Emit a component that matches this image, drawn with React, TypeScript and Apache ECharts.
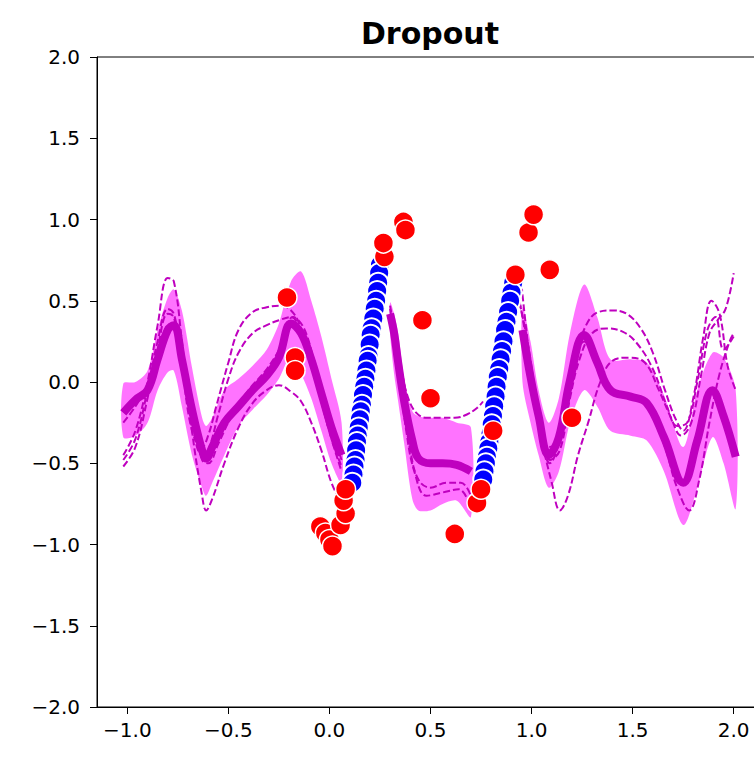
import React, { useEffect, useRef } from "react";
import * as echarts from "echarts";

// ---------- data ----------
const xTicks = [-1.0, -0.5, 0.0, 0.5, 1.0, 1.5, 2.0];

// predictive mean / band, left region
const xLeft = [-1.02, -0.96, -0.90, -0.85, -0.80, -0.77, -0.73, -0.68, -0.63, -0.61, -0.58, -0.52, -0.45, -0.38, -0.31, -0.25, -0.19, -0.14, -0.09, -0.04, 0.01, 0.06];
const meanLeft = [-0.19, -0.11, -0.05, 0.14, 0.32, 0.35, 0.14, -0.17, -0.42, -0.47, -0.40, -0.25, -0.15, -0.05, 0.04, 0.15, 0.36, 0.30, 0.14, -0.07, -0.28, -0.45];
const upperLeft = [-0.01, 0.0, 0.07, 0.32, 0.52, 0.57, 0.44, 0.09, -0.22, -0.27, -0.22, -0.05, 0.02, 0.10, 0.20, 0.36, 0.62, 0.68, 0.50, 0.28, 0.02, -0.25];
const lowerLeft = [-0.34, -0.33, -0.25, -0.05, 0.06, 0.07, -0.15, -0.45, -0.65, -0.70, -0.62, -0.45, -0.27, -0.17, -0.08, 0.02, 0.16, 0.05, -0.10, -0.30, -0.50, -0.62];

// middle region
const xMid = [0.30, 0.32, 0.34, 0.37, 0.41, 0.44, 0.50, 0.56, 0.63, 0.70];
const meanMid = [0.42, 0.30, 0.12, -0.12, -0.36, -0.47, -0.50, -0.50, -0.51, -0.55];
const upperMid = [0.49, 0.42, 0.30, 0.02, -0.18, -0.21, -0.22, -0.22, -0.25, -0.28];
const lowerMid = [0.30, 0.05, -0.12, -0.38, -0.72, -0.79, -0.79, -0.75, -0.73, -0.83];

// right region
const xRight = [0.955, 0.995, 1.035, 1.085, 1.135, 1.19, 1.26, 1.325, 1.39, 1.49, 1.57, 1.655, 1.75, 1.82, 1.895, 1.95, 2.01];
const meanRight = [0.32, 0.03, -0.21, -0.45, -0.34, 0.01, 0.29, 0.12, -0.05, -0.09, -0.13, -0.34, -0.62, -0.36, -0.05, -0.21, -0.46];
const upperRight = [0.46, 0.25, -0.05, -0.25, -0.10, 0.30, 0.60, 0.40, 0.14, 0.14, 0.12, -0.08, -0.40, -0.05, 0.18, 0.15, -0.05];
const lowerRight = [0.0, -0.25, -0.45, -0.65, -0.55, -0.25, -0.05, -0.15, -0.30, -0.33, -0.36, -0.55, -0.88, -0.65, -0.34, -0.50, -0.78];

// dropout sample curves (dashed)
const sampleL1 = [[-1.02, -0.45], [-0.96, -0.30], [-0.90, 0.0], [-0.85, 0.35], [-0.80, 0.64], [-0.77, 0.62], [-0.73, 0.25], [-0.68, -0.30], [-0.63, -0.70], [-0.61, -0.79], [-0.58, -0.72], [-0.52, -0.50], [-0.45, -0.28], [-0.38, -0.13], [-0.31, -0.05], [-0.25, -0.02], [-0.19, -0.06], [-0.14, -0.12], [-0.09, -0.25], [-0.04, -0.42], [0.01, -0.62], [0.06, -0.75]];
const sampleL2 = [[-1.02, -0.52], [-0.96, -0.40], [-0.90, -0.10], [-0.85, 0.20], [-0.80, 0.42], [-0.77, 0.40], [-0.73, 0.10], [-0.68, -0.30], [-0.63, -0.40], [-0.60, -0.33], [-0.56, -0.15], [-0.50, 0.12], [-0.45, 0.32], [-0.38, 0.43], [-0.31, 0.46], [-0.25, 0.47], [-0.19, 0.44], [-0.14, 0.33], [-0.09, 0.12], [-0.04, -0.12], [0.01, -0.35], [0.06, -0.55]];
const sampleL3 = [[-1.02, -0.48], [-0.96, -0.35], [-0.90, -0.05], [-0.85, 0.25], [-0.80, 0.45], [-0.77, 0.42], [-0.73, 0.15], [-0.68, -0.25], [-0.63, -0.45], [-0.60, -0.42], [-0.55, -0.20], [-0.50, 0.02], [-0.45, 0.18], [-0.38, 0.30], [-0.31, 0.35], [-0.25, 0.38], [-0.19, 0.40], [-0.14, 0.30], [-0.09, 0.10], [-0.04, -0.12], [0.01, -0.35], [0.06, -0.52]];
const sampleL4 = [[-1.02, -0.25], [-0.96, -0.15], [-0.90, -0.02], [-0.85, 0.18], [-0.80, 0.35], [-0.77, 0.36], [-0.73, 0.12], [-0.68, -0.22], [-0.63, -0.48], [-0.60, -0.50], [-0.55, -0.38], [-0.48, -0.20], [-0.40, -0.05], [-0.31, 0.08], [-0.24, 0.22], [-0.18, 0.40], [-0.13, 0.34], [-0.08, 0.15], [-0.03, -0.08], [0.02, -0.32], [0.06, -0.48]];

const sampleM1 = [[0.30, 0.47], [0.33, 0.25], [0.36, 0.05], [0.39, -0.10], [0.43, -0.19], [0.48, -0.22], [0.55, -0.22], [0.62, -0.22], [0.68, -0.20], [0.73, -0.16], [0.76, -0.12]];
const sampleM2 = [[0.30, 0.40], [0.33, 0.15], [0.36, -0.10], [0.40, -0.42], [0.44, -0.60], [0.50, -0.65], [0.58, -0.62], [0.65, -0.62], [0.70, -0.70]];
const sampleM3 = [[0.30, 0.45], [0.34, 0.10], [0.38, -0.30], [0.42, -0.55], [0.48, -0.70], [0.56, -0.68], [0.64, -0.66], [0.70, -0.78]];

const sampleR1 = [[0.93, 0.55], [0.98, 0.25], [1.03, -0.15], [1.08, -0.40], [1.12, -0.38], [1.17, -0.15], [1.22, 0.15], [1.27, 0.35], [1.33, 0.43], [1.40, 0.44], [1.47, 0.42], [1.54, 0.33], [1.60, 0.18], [1.66, -0.05], [1.71, -0.22], [1.75, -0.30], [1.80, -0.10], [1.85, 0.28], [1.89, 0.50], [1.93, 0.42], [1.97, 0.10], [2.01, -0.05]];
const sampleR2 = [[0.94, 0.50], [0.99, 0.15], [1.04, -0.25], [1.09, -0.48], [1.14, -0.42], [1.19, -0.10], [1.24, 0.15], [1.30, 0.30], [1.37, 0.33], [1.45, 0.31], [1.52, 0.24], [1.60, 0.08], [1.67, -0.15], [1.72, -0.27], [1.77, -0.25], [1.82, 0.0], [1.87, 0.32], [1.91, 0.40], [1.95, 0.20], [2.0, 0.28]];
const sampleR3 = [[0.95, 0.60], [1.0, 0.05], [1.05, -0.35], [1.10, -0.62], [1.14, -0.79], [1.18, -0.70], [1.23, -0.45], [1.28, -0.25], [1.34, 0.0], [1.40, 0.13], [1.48, 0.15], [1.56, 0.12], [1.63, -0.05], [1.69, -0.22], [1.74, -0.33], [1.79, -0.25], [1.84, 0.05], [1.88, 0.30], [1.92, 0.38], [1.96, 0.45], [2.0, 0.67]];
const sampleR4 = [[0.96, 0.25], [1.0, -0.05], [1.05, -0.35], [1.09, -0.50], [1.14, -0.35], [1.20, 0.0], [1.26, 0.25], [1.33, 0.10], [1.40, -0.05], [1.50, -0.08], [1.58, -0.15], [1.66, -0.40], [1.72, -0.65], [1.78, -0.79], [1.83, -0.60], [1.88, -0.25], [1.93, 0.05], [1.98, 0.25], [2.0, 0.30]];

// observed training points (blue)
const trainA = [[0.25, 0.72], [0.246, 0.67], [0.241, 0.61], [0.236, 0.56], [0.231, 0.50], [0.224, 0.45], [0.217, 0.39], [0.209, 0.33], [0.204, 0.29], [0.199, 0.23], [0.193, 0.16], [0.189, 0.13], [0.183, 0.07], [0.178, 0.02], [0.172, -0.03], [0.166, -0.08], [0.161, -0.14], [0.155, -0.18], [0.151, -0.23], [0.145, -0.28], [0.14, -0.33], [0.136, -0.37], [0.132, -0.42], [0.129, -0.48], [0.124, -0.52], [0.119, -0.57], [0.113, -0.62]];
const trainB = [[0.915, 0.66], [0.909, 0.61], [0.901, 0.55], [0.894, 0.50], [0.884, 0.43], [0.876, 0.37], [0.869, 0.32], [0.861, 0.25], [0.854, 0.19], [0.847, 0.14], [0.84, 0.08], [0.833, 0.03], [0.827, -0.03], [0.822, -0.09], [0.815, -0.15], [0.809, -0.21], [0.803, -0.26], [0.797, -0.32], [0.791, -0.37], [0.786, -0.41], [0.779, -0.46], [0.774, -0.50], [0.767, -0.55], [0.761, -0.60]];

// held-out points (red)
const testPts = [[-0.21, 0.52], [-0.17, 0.15], [-0.17, 0.07], [-0.045, -0.89], [-0.02, -0.93], [0.0, -0.97], [0.015, -1.01], [0.055, -0.88], [0.08, -0.81], [0.07, -0.73], [0.08, -0.66], [0.272, 0.77], [0.267, 0.855], [0.366, 0.985], [0.376, 0.935], [0.46, 0.38], [0.50, -0.10], [0.62, -0.935], [0.73, -0.745], [0.75, -0.66], [0.81, -0.30], [0.92, 0.66], [0.985, 0.92], [1.01, 1.03], [1.09, 0.69], [1.20, -0.22]];

// ---------- styling ----------
const FONT = "DejaVu Sans";
const MEAN_COLOR = "#bf00bf";
const BAND_COLOR = "rgba(255, 0, 255, 0.55)";

const fmt = (v: number) => (v < 0 ? "\u2212" : "") + Math.abs(v).toFixed(1);

function bandSeries(xs: number[], lo: number[], hi: number[]) {
  return {
    type: "custom",
    silent: true,
    z: 1,
    clip: true,
    data: xs.map((x, i) => [x, lo[i], hi[i]]),
    encode: { x: 0, y: [1, 2] },
    renderItem: (params: any, api: any) => {
      if (params.dataIndex !== 0) return null;
      const pts: number[][] = [];
      for (let i = 0; i < xs.length; i++) pts.push(api.coord([xs[i], hi[i]]));
      for (let i = xs.length - 1; i >= 0; i--) pts.push(api.coord([xs[i], lo[i]]));
      return {
        type: "polygon",
        shape: { points: pts, smooth: 0.3 },
        style: { fill: BAND_COLOR, stroke: "none" },
      };
    },
  };
}

function meanSeries(xs: number[], ys: number[]) {
  return {
    type: "line",
    z: 3,
    smooth: 0.4,
    showSymbol: false,
    silent: true,
    data: xs.map((x, i) => [x, ys[i]]),
    lineStyle: { color: MEAN_COLOR, width: 8, cap: "butt" },
  };
}

function sampleSeries(pts: number[][]) {
  return {
    type: "line",
    z: 2,
    smooth: 0.4,
    showSymbol: false,
    silent: true,
    data: pts,
    lineStyle: { color: MEAN_COLOR, width: 2, type: [7, 3] },
  };
}

export default function App() {
  const ref = useRef<HTMLDivElement>(null);
  useEffect(() => {
    if (!ref.current) return;
    const chart = echarts.init(ref.current, null, { renderer: "svg" });
    chart.setOption({
      animation: false,
      backgroundColor: "#ffffff",
      graphic: [
        {
          type: "text",
          x: 430,
          y: 33,
          silent: true,
          style: {
            text: "Dropout",
            textAlign: "center",
            textVerticalAlign: "middle",
            fontFamily: FONT,
            fontWeight: "bold",
            fontSize: 30,
            fill: "#000",
          },
        },
      ],
      grid: {
        left: 97,
        top: 57,
        right: 6,
        bottom: 60,
        show: true,
        borderColor: "#000",
        borderWidth: 1,
        backgroundColor: "transparent",
      },
      xAxis: {
        type: "value",
        min: -1.15,
        max: 2.15,
        axisLine: { show: true, onZero: false, lineStyle: { color: "#000", width: 1 } },
        axisTick: { show: true, length: 7, lineStyle: { color: "#000" }, customValues: xTicks },
        axisLabel: {
          customValues: xTicks,
          formatter: fmt,
          fontFamily: FONT,
          fontSize: 20,
          color: "#000",
          margin: 13,
        },
        splitLine: { show: false },
      },
      yAxis: {
        type: "value",
        min: -2,
        max: 2,
        interval: 0.5,
        axisLine: { show: true, onZero: false, lineStyle: { color: "#000", width: 1 } },
        axisTick: { show: true, length: 7, lineStyle: { color: "#000" } },
        axisLabel: { formatter: fmt, fontFamily: FONT, fontSize: 20, color: "#000", margin: 17 },
        splitLine: { show: false },
      },
      series: [
        bandSeries(xLeft, lowerLeft, upperLeft),
        bandSeries(xMid, lowerMid, upperMid),
        bandSeries(xRight, lowerRight, upperRight),
        sampleSeries(sampleL1),
        sampleSeries(sampleL2),
        sampleSeries(sampleL3),
        sampleSeries(sampleL4),
        sampleSeries(sampleM1),
        sampleSeries(sampleM2),
        sampleSeries(sampleM3),
        sampleSeries(sampleR1),
        sampleSeries(sampleR2),
        sampleSeries(sampleR3),
        sampleSeries(sampleR4),
        meanSeries(xLeft, meanLeft),
        meanSeries(xMid, meanMid),
        meanSeries(xRight, meanRight),
        {
          type: "scatter",
          z: 4,
          silent: true,
          data: trainA.concat(trainB),
          symbolSize: 20,
          itemStyle: { color: "#0000ff", borderColor: "#ffffff", borderWidth: 2, opacity: 1 },
        },
        {
          type: "scatter",
          z: 5,
          silent: true,
          data: testPts,
          symbolSize: 20,
          itemStyle: { color: "#ff0000", borderColor: "#ffffff", borderWidth: 1.5, opacity: 1 },
        },
      ],
    });
    return () => chart.dispose();
  }, []);
  return (
    <div
      style={{
        position: "fixed",
        left: 0,
        top: 0,
        width: 754,
        height: 767,
        overflow: "hidden",
        background: "#fff",
      }}
    >
      <div ref={ref} style={{ width: 770, height: 767 }} />
    </div>
  );
}
